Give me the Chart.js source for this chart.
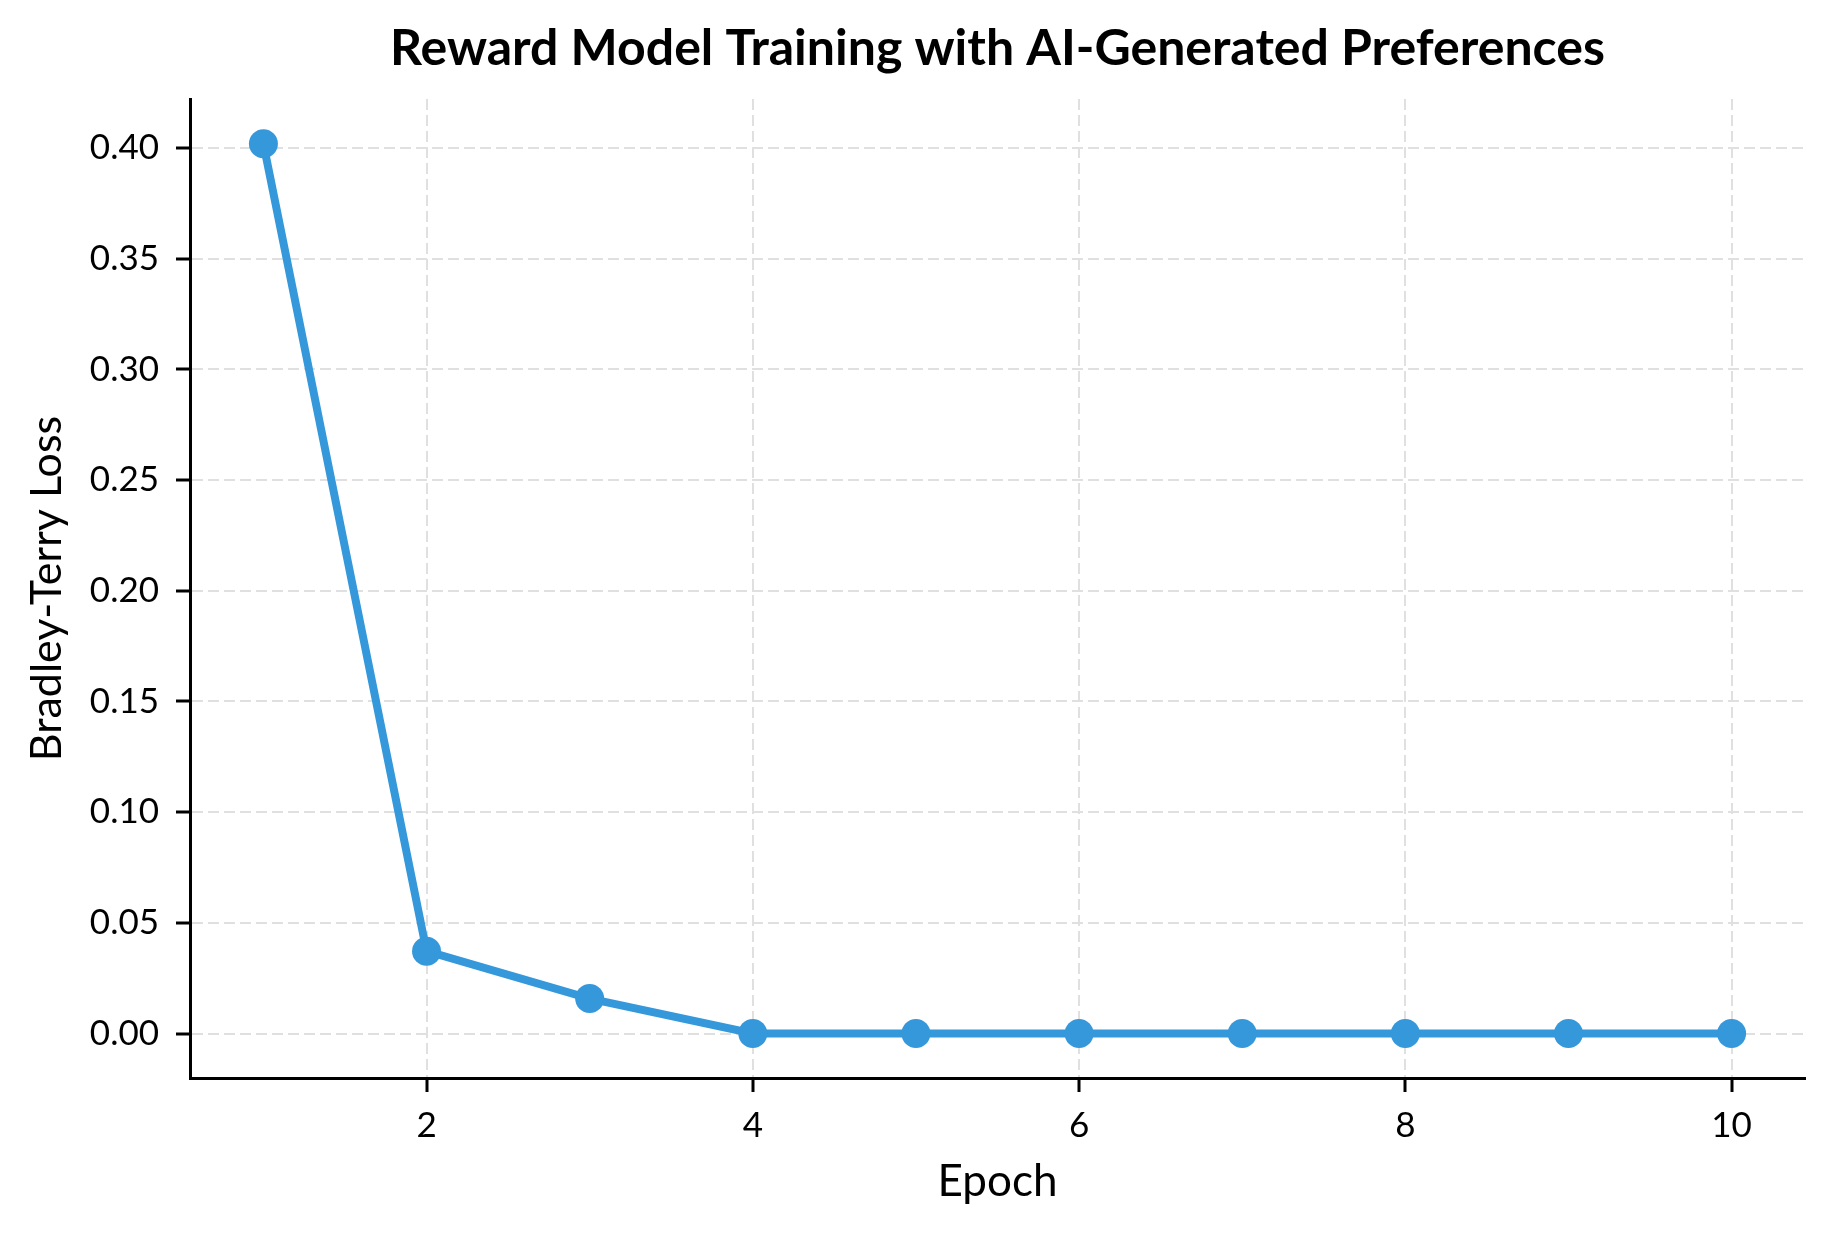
<!DOCTYPE html>
<html>
<head>
<meta charset="utf-8">
<script src="https://cdn.jsdelivr.net/npm/chart.js@4/dist/chart.umd.min.js"></script>
<style>
  html, body { margin: 0; padding: 0; background: #fff; }
  canvas { display: block; }
</style>
</head>
<body>
<canvas id="chartLoss" width="1834" height="1234"></canvas>
<script>
// datos
const epochs = [1, 2, 3, 4, 5, 6, 7, 8, 9, 10];
const lossValues = [0.402, 0.0372, 0.0158, 0.0, 0.0, 0.0, 0.0, 0.0, 0.0, 0.0];
const xTicks = [2, 4, 6, 8, 10];
const yTicks = [0.00, 0.05, 0.10, 0.15, 0.20, 0.25, 0.30, 0.35, 0.40];

const FONT = 'Lato, "Noto Sans", sans-serif';
const LINE = '#3498db';
const GRID = '#e0e0e0';

const gridOpts = {
  color: GRID,
  lineWidth: 2,
  drawTicks: true,
  tickLength: 14,
  tickColor: '#000',
  tickWidth: 3,
  tickBorderDash: []
};
// en v4 el guion de la rejilla sale de border.dash
const borderOpts = { display: true, color: '#000', width: 3, dash: [11, 5] };

const ctx = document.getElementById('chartLoss').getContext('2d');
const chartLoss = new Chart(ctx, {
  type: 'line',
  data: {
    datasets: [{
      label: 'Loss',
      data: epochs.map((e, i) => ({ x: e, y: lossValues[i] })),
      borderColor: LINE,
      backgroundColor: LINE,
      borderWidth: 8,
      pointRadius: 14.5,
      pointHoverRadius: 14.5,
      pointBorderWidth: 0,
      pointBackgroundColor: LINE,
      tension: 0,
      clip: false
    }]
  },
  options: {
    responsive: false,
    devicePixelRatio: 1,
    animation: false,
    layout: { padding: { left: 0, right: 29, top: 0, bottom: 0 } },
    plugins: {
      legend: { display: false },
      tooltip: { enabled: false },
      title: {
        display: true,
        text: 'Reward Model Training with AI-Generated Preferences',
        color: '#000',
        fullSize: false,
        font: { family: FONT, size: 50, weight: 'bold', lineHeight: 1.2 },
        padding: { top: 19, bottom: 20 }
      }
    },
    scales: {
      x: {
        type: 'linear',
        min: 0.55,
        max: 10.45,
        afterBuildTicks: s => { s.ticks = xTicks.map(v => ({ value: v })); },
        afterFit: s => { s.height = 156; },
        grid: gridOpts,
        border: borderOpts,
        ticks: {
          color: '#000',
          padding: 13,
          font: { family: FONT, size: 35, lineHeight: 1.2 },
          callback: v => String(v)
        },
        title: {
          display: true,
          text: 'Epoch',
          color: '#000',
          font: { family: FONT, size: 44, lineHeight: 1.2 },
          padding: { top: 0, bottom: 26 }
        }
      },
      y: {
        type: 'linear',
        min: -0.0201,
        max: 0.4222,
        afterBuildTicks: s => { s.ticks = yTicks.map(v => ({ value: v })); },
        afterFit: s => { s.width = 190; },
        grid: gridOpts,
        border: borderOpts,
        ticks: {
          color: '#000',
          padding: 17,
          font: { family: FONT, size: 35, lineHeight: 1.2 },
          callback: v => v.toFixed(2)
        },
        title: {
          display: true,
          text: 'Bradley-Terry Loss',
          color: '#000',
          font: { family: FONT, size: 43, lineHeight: 1.2 },
          padding: { top: 21, bottom: 0 }
        }
      }
    }
  }
});
</script>
</body>
</html>
